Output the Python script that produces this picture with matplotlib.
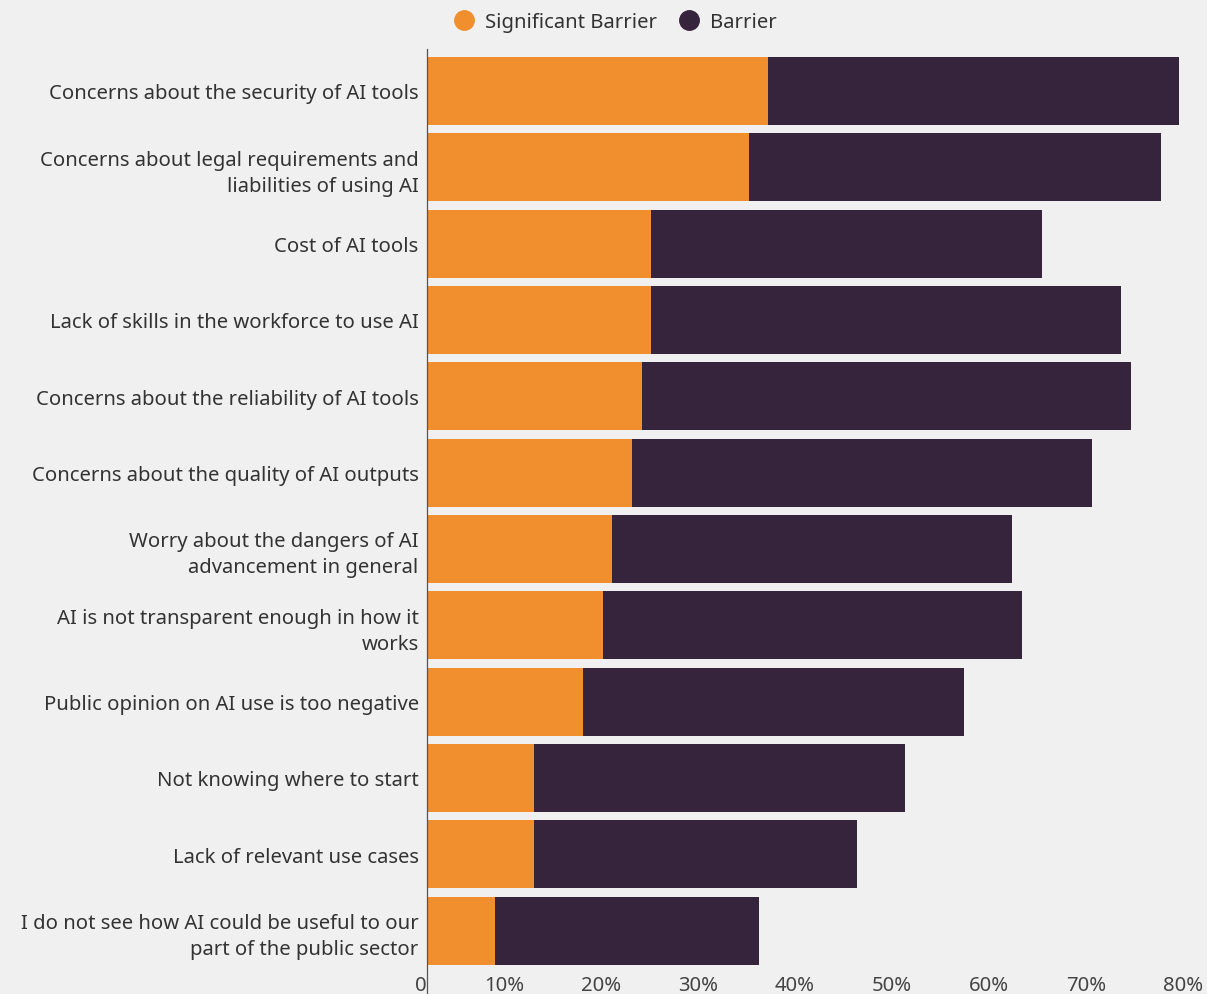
import numpy as np
import matplotlib
matplotlib.use("Agg")
from matplotlib import pyplot as plt
from matplotlib.lines import Line2D

# data
categories = [
    "Concerns about the security of AI tools",
    "Concerns about legal requirements and\nliabilities of using AI",
    "Cost of AI tools",
    "Lack of skills in the workforce to use AI",
    "Concerns about the reliability of AI tools",
    "Concerns about the quality of AI outputs",
    "Worry about the dangers of AI\nadvancement in general",
    "AI is not transparent enough in how it\nworks",
    "Public opinion on AI use is too negative",
    "Not knowing where to start",
    "Lack of relevant use cases",
    "I do not see how AI could be useful to our\npart of the public sector",
]
significant = [35.2, 33.2, 23.1, 23.1, 22.2, 21.1, 19.1, 18.1, 16.1, 11.0, 11.0, 7.0]
barrier = [42.3, 42.5, 40.3, 48.4, 50.4, 47.5, 41.2, 43.2, 39.3, 38.3, 33.3, 27.2]
xticks = [0, 10, 20, 30, 40, 50, 60, 70, 80]
xticklabels = ["0", "10%", "20%", "30%", "40%", "50%", "60%", "70%", "80%"]

orange = "#F18F2E"
dark = "#36233C"
bg = "#F0F0F0"

plt.rcParams['font.family'] = ['Noto Sans', 'DejaVu Sans']

fig = plt.figure(figsize=(12.07, 9.95), dpi=100, facecolor=bg)
ax = fig.add_axes([427/1207, 0, (1203-427)/1207, 1 - 50/995])
ax.set_facecolor("none")

y = np.arange(len(categories))
ax.barh(y, significant, height=0.89, color=orange, label="Significant Barrier")
ax.barh(y, barrier, left=significant, height=0.89, color=dark, label="Barrier")

ax.set_ylim(11.83, -0.55)
ax.set_xlim(0, 80)
ax.set_yticks(y)
ax.set_yticklabels(categories, fontsize=14.6, color="#333333", linespacing=1.4)
ax.tick_params(axis='y', length=0, pad=6)

ax.set_xticks(xticks)
ax.set_xticklabels(xticklabels, fontsize=14.6, color="#444444")
ax.tick_params(axis='x', length=0, pad=-14)
for lab in ax.get_xticklabels():
    lab.set_ha('right')

for s in ['top', 'right', 'bottom']:
    ax.spines[s].set_visible(False)
ax.spines['left'].set_color("#555555")
ax.spines['left'].set_linewidth(0.9)

handles = [
    Line2D([], [], marker='o', linestyle='none', markersize=14, color=orange),
    Line2D([], [], marker='o', linestyle='none', markersize=14, color=dark),
]
fig.legend(handles, ["Significant Barrier", "Barrier"], loc='center',
           bbox_to_anchor=(615/1207, 1 - 23/995), ncol=2, frameon=False,
           fontsize=14.6, handletextpad=0.5, columnspacing=1.0, handlelength=1.1,
           labelcolor="#333333")

fig.savefig("out.png", dpi=100, facecolor=bg)
